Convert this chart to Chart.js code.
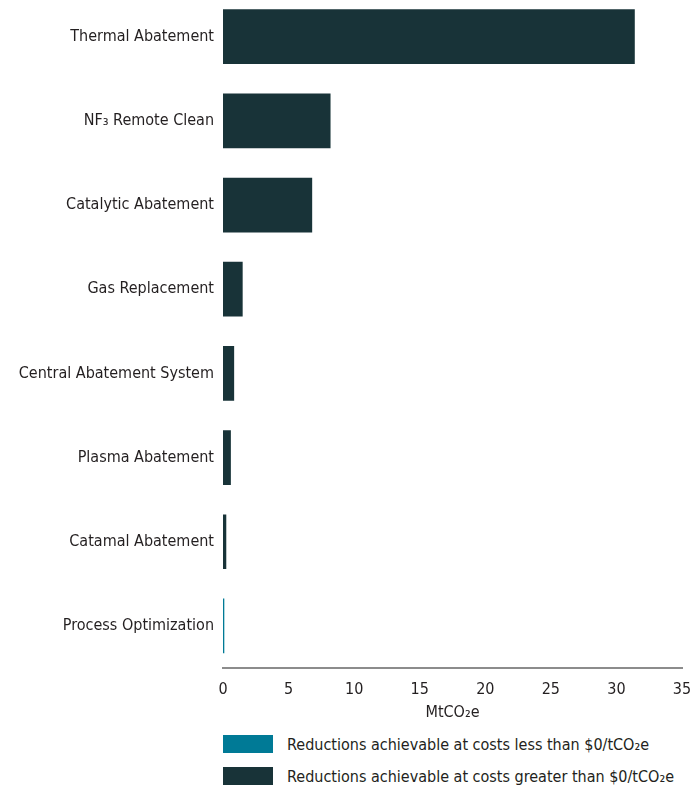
<!DOCTYPE html>
<html>
<head>
<meta charset="utf-8">
<script src="https://cdn.jsdelivr.net/npm/chart.js@4/dist/chart.umd.min.js"></script>
<style>
  html, body { margin: 0; padding: 0; background: #fff; }
  body { width: 696px; height: 789px; position: relative; overflow: hidden;
         font-family: "DejaVu Sans Condensed", sans-serif; color: #231f20; }
  #wrap { position: absolute; left: 0; top: -24px; width: 696px; height: 750px; }
  #legend { position: absolute; left: 223px; top: 735px; }
  .item { display: flex; align-items: center; height: 18px; margin-bottom: 14px; font-size: 16px; white-space: nowrap; }
  .swatch { width: 50px; height: 18px; margin-right: 14px; flex-shrink: 0; }
</style>
</head>
<body>
<div id="wrap"><canvas id="chart"></canvas></div>
<div id="legend"></div>
<script>
const categories = [
  'Thermal Abatement',
  'NF\u2083 Remote Clean',
  'Catalytic Abatement',
  'Gas Replacement',
  'Central Abatement System',
  'Plasma Abatement',
  'Catamal Abatement',
  'Process Optimization'
];
const seriesNames = [
  'Reductions achievable at costs less than $0/tCO\u2082e',
  'Reductions achievable at costs greater than $0/tCO\u2082e'
];
const lessThanZero = [0, 0, 0, 0, 0, 0, 0, 0.1];
const greaterThanZero = [31.4, 8.2, 6.8, 1.5, 0.85, 0.6, 0.25, 0];
const xTicks = [0, 5, 10, 15, 20, 25, 30, 35];
const colors = ['#007a96', '#183338'];

const font = { family: '"DejaVu Sans Condensed", sans-serif', size: 16 };

const ctx = document.getElementById('chart').getContext('2d');
new Chart(ctx, {
  type: 'bar',
  data: {
    labels: categories,
    datasets: [
      { label: seriesNames[0], data: lessThanZero, backgroundColor: colors[0] },
      { label: seriesNames[1], data: greaterThanZero, backgroundColor: colors[1] }
    ]
  },
  options: {
    indexAxis: 'y',
    responsive: true,
    maintainAspectRatio: false,
    animation: false,
    layout: { padding: 0 },
    datasets: { bar: { categoryPercentage: 1, barPercentage: 0.65, borderWidth: 0 } },
    plugins: { legend: { display: false }, tooltip: { enabled: false } },
    scales: {
      x: {
        stacked: true,
        min: 0,
        max: 35,
        afterBuildTicks: (scale) => { scale.ticks = xTicks.map(v => ({ value: v })); },
        afterFit: (scale) => { scale.height = 58; scale.paddingLeft = 0; scale.paddingRight = 14; },
        grid: { display: false, drawTicks: false },
        border: { display: true, color: '#8c8c8c', width: 2 },
        ticks: { color: '#231f20', font: font, padding: 12, maxRotation: 0 },
        title: { display: true, text: 'MtCO\u2082e', color: '#231f20', font: font, padding: { top: 0, bottom: 4 } }
      },
      y: {
        stacked: true,
        afterFit: (scale) => { scale.width = 223; },
        grid: { display: false, drawTicks: false },
        border: { display: false },
        ticks: { color: '#231f20', font: font, padding: 9 }
      }
    }
  }
});

// legend built from the same series names and colours
const legend = document.getElementById('legend');
seriesNames.forEach((name, i) => {
  const item = document.createElement('div');
  item.className = 'item';
  item.innerHTML = `<span class="swatch" style="background:${colors[i]}"></span><span>${name}</span>`;
  legend.appendChild(item);
});
</script>
</body>
</html>
